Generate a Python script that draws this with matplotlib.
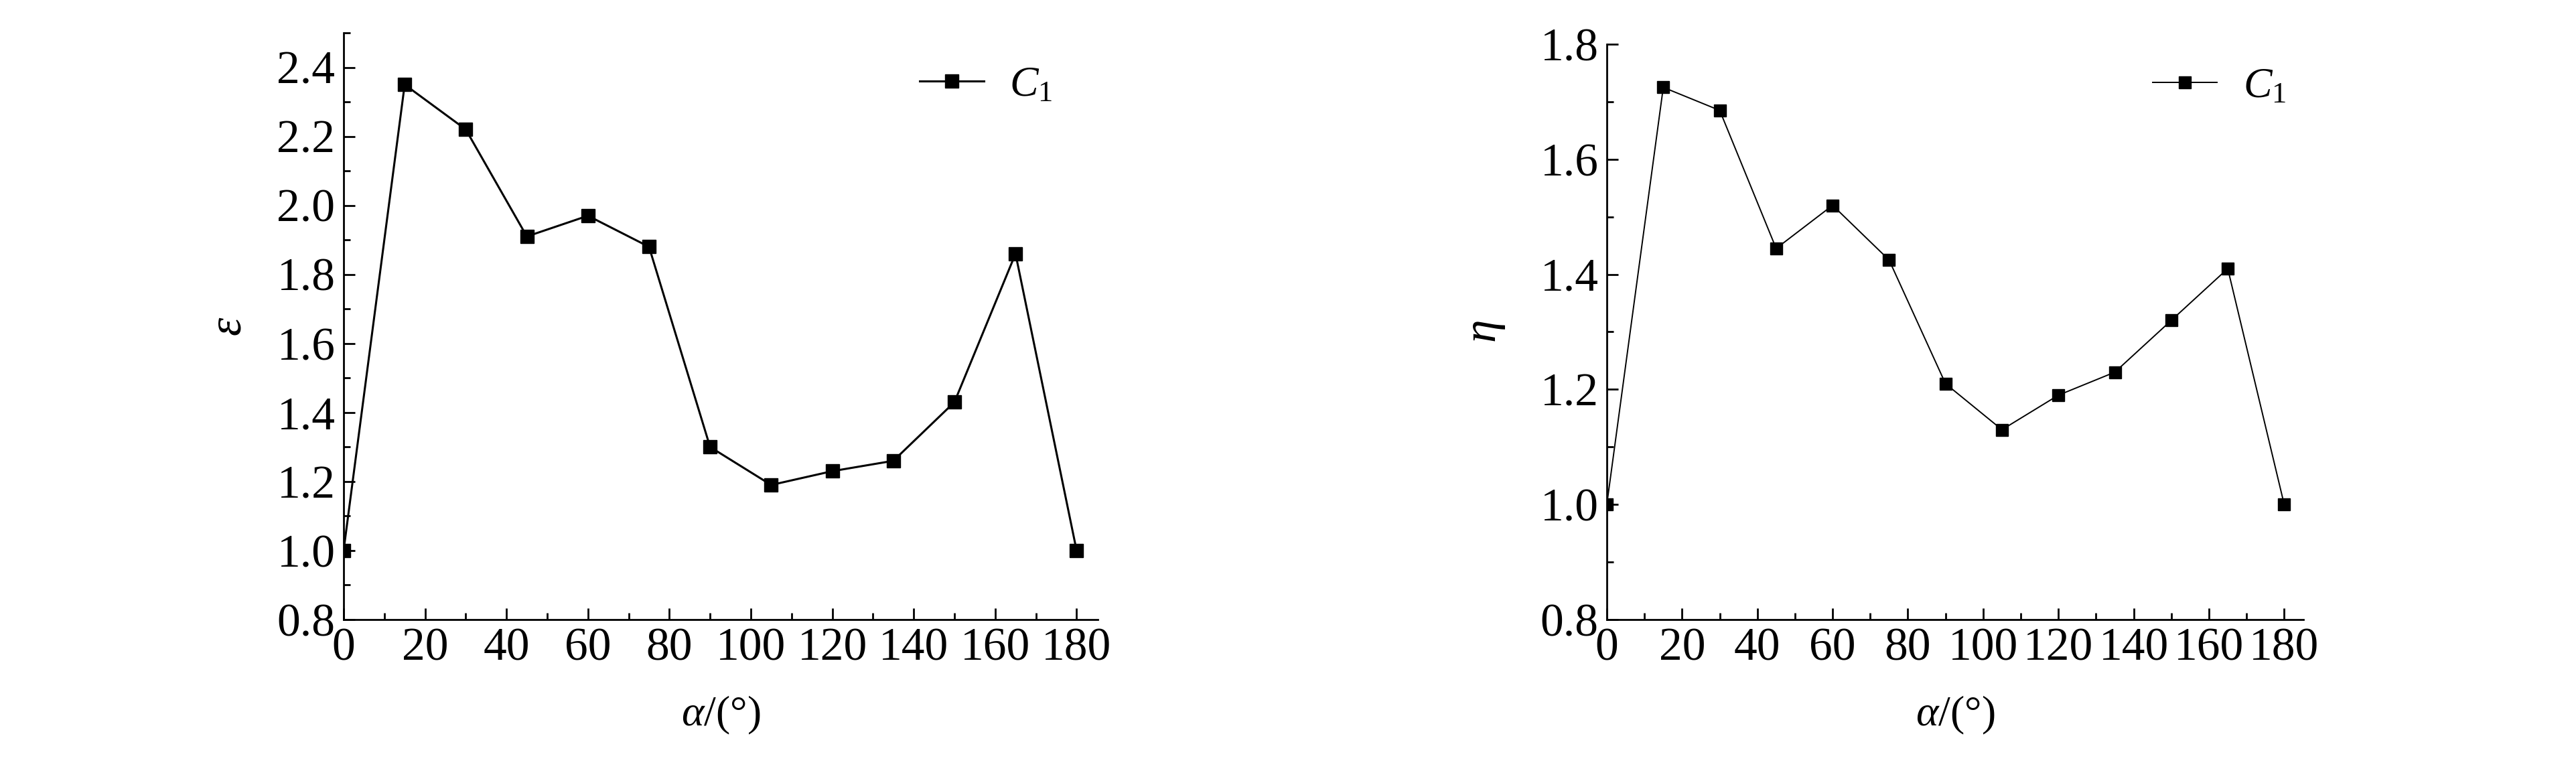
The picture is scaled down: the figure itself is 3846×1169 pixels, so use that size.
import numpy as np
import matplotlib
matplotlib.use('Agg')
import matplotlib.pyplot as plt
from matplotlib.ticker import MultipleLocator

# Data
alpha = [0, 15, 30, 45, 60, 75, 90, 105, 120, 135, 150, 165, 180]
eps_c1 = [1.00, 2.35, 2.22, 1.91, 1.97, 1.88, 1.30, 1.19, 1.23, 1.26, 1.43, 1.86, 1.00]
eta_c1 = [1.00, 1.725, 1.685, 1.445, 1.52, 1.425, 1.21, 1.13, 1.19, 1.23, 1.32, 1.41, 1.00]
legend_label = '$C_{\\mathrm{1}}$'

plt.rcParams['font.family'] = ['Liberation Serif', 'DejaVu Serif']
plt.rcParams['mathtext.fontset'] = 'custom'
plt.rcParams['mathtext.rm'] = 'Liberation Serif'
plt.rcParams['mathtext.it'] = 'Liberation Serif:italic'

W, H = 3846, 1169
fig = plt.figure(figsize=(W / 100, H / 100), dpi=100)


def px_axes(x0, x1, y0, y1):
    # axes from pixel box (top-left origin)
    return fig.add_axes([x0 / W, 1 - y1 / H, (x1 - x0) / W, (y1 - y0) / H])


def style(ax, ylim, ymaj, xlim_hi):
    ax.set_xlim(0, xlim_hi)
    ax.set_ylim(*ylim)
    ax.spines['top'].set_visible(False)
    ax.spines['right'].set_visible(False)
    for s in ['left', 'bottom']:
        ax.spines[s].set_linewidth(2.0)
    ax.xaxis.set_major_locator(MultipleLocator(20))
    ax.xaxis.set_minor_locator(MultipleLocator(10))
    ax.yaxis.set_major_locator(MultipleLocator(ymaj))
    ax.yaxis.set_minor_locator(MultipleLocator(ymaj / 2))
    ax.tick_params(which='major', direction='in', length=12, width=2.0,
                   labelsize=50, pad=9)
    ax.tick_params(which='minor', direction='in', length=7, width=2.0)
    ax.yaxis.set_major_formatter(plt.FormatStrFormatter('%.1f'))


# Left panel
ax1 = px_axes(513, 1639, 49, 925)
ax1.plot(alpha, eps_c1, color='k', linewidth=2.2, marker='s',
         markersize=14, label=legend_label)
style(ax1, (0.8, 2.5), 0.2, 185.2)
ax1.set_xlabel('$\\alpha$/(°)', fontsize=46, labelpad=26)
ax1.set_ylabel('$\\varepsilon$', fontsize=50, labelpad=28)
ax1.legend(loc='center left', bbox_to_anchor=(0.764, 0.91), frameon=False,
           fontsize=46, handlelength=1.5, handletextpad=0.6,
           borderpad=0, borderaxespad=0)

# Right panel
ax2 = px_axes(2399, 3439, 66, 925)
ax2.plot(alpha, eta_c1, color='k', linewidth=1.4, marker='s',
         markersize=13, label=legend_label)
style(ax2, (0.8, 1.8), 0.2, 185.1)
ax2.yaxis.set_minor_locator(MultipleLocator(0.1))
ax2.set_xlabel('$\\alpha$/(°)', fontsize=46, labelpad=26)
ax2.set_ylabel('$\\eta$', fontsize=50, labelpad=36)
ax2.legend(loc='center left', bbox_to_anchor=(0.784, 0.925), frameon=False,
           fontsize=46, handlelength=1.5, handletextpad=0.6,
           borderpad=0, borderaxespad=0)

fig.savefig('out.png', dpi=100)
